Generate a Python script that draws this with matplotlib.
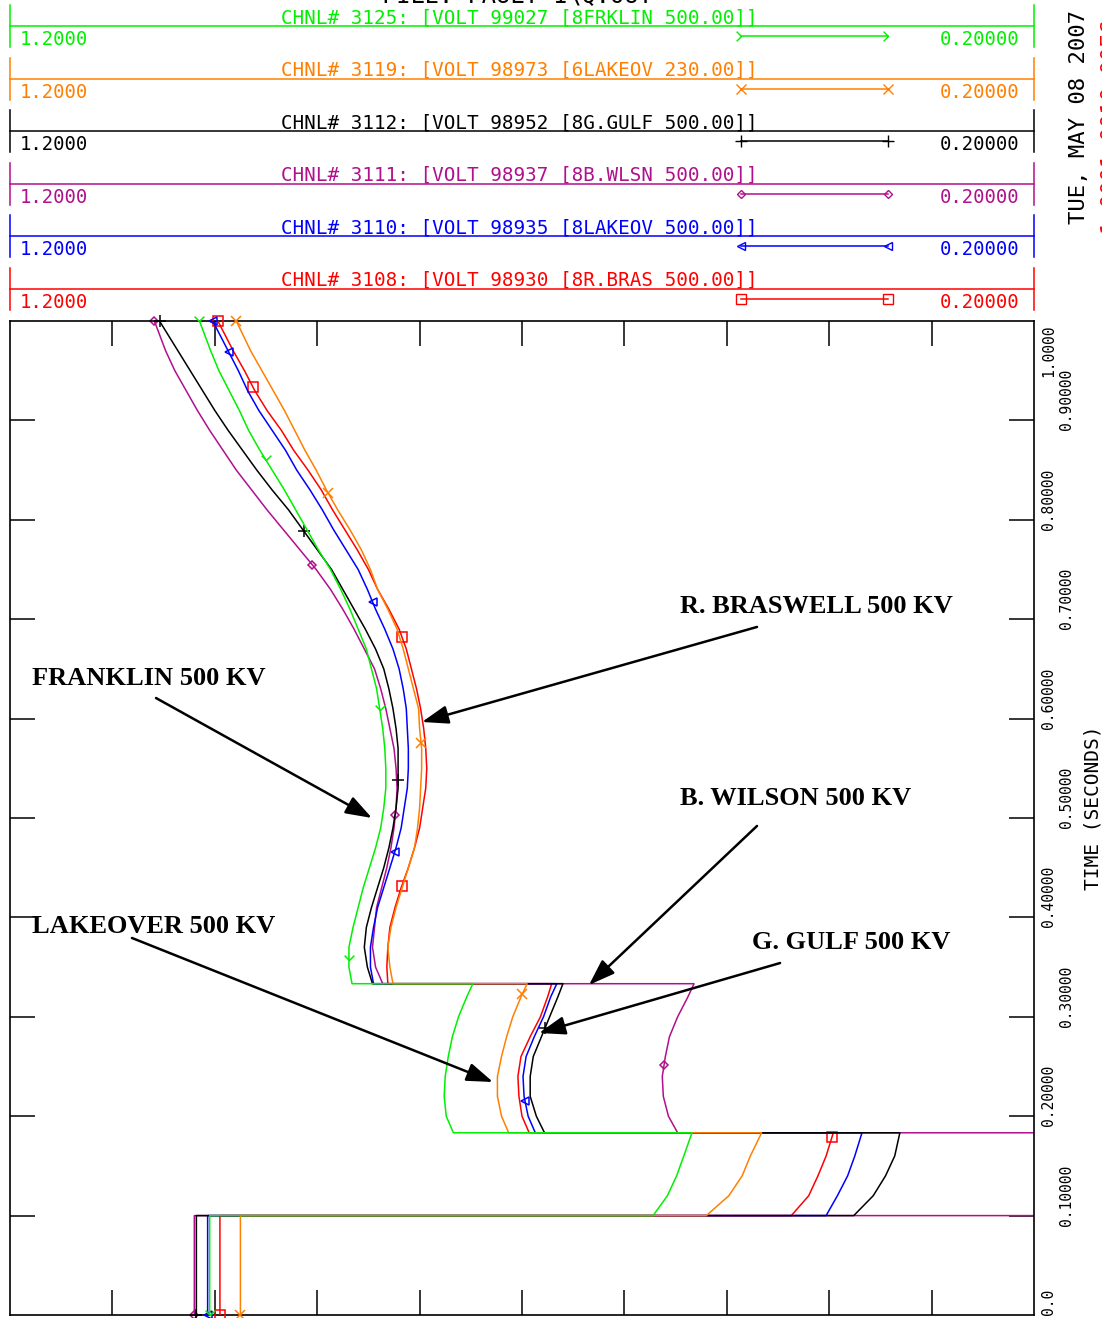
import numpy as np
import matplotlib
matplotlib.use("Agg")
import matplotlib.pyplot as plt
from matplotlib.transforms import blended_transform_factory

# ---------------- time bases (seconds) for each simulation stage ----------------
t_prefault = [0.0, 0.1]
t_fault1 = [0.1, 0.12, 0.14, 0.16, 0.1833]
t_fault2 = [0.1833, 0.20, 0.22, 0.24, 0.26, 0.28, 0.30, 0.32, 0.3333]
t_post = [0.3333, 0.35, 0.37, 0.39, 0.41, 0.43, 0.45, 0.47, 0.49, 0.51,
          0.53, 0.55, 0.57, 0.59, 0.61, 0.63, 0.65, 0.67, 0.69, 0.71,
          0.73, 0.75, 0.77, 0.79, 0.81, 0.83, 0.85, 0.87, 0.89, 0.91,
          0.93, 0.95, 0.97, 1.0]

# ---------------- bus voltages (pu) ----------------
frklin_pre = 1.005
frklin_f1 = [0.572, 0.558, 0.549, 0.542, 0.534]
frklin_f2 = [0.767, 0.774, 0.776, 0.775, 0.772, 0.768, 0.762, 0.754, 0.748]
frklin_post = [0.866, 0.869, 0.869, 0.865, 0.860, 0.855, 0.849, 0.843, 0.838, 0.835,
               0.833, 0.833, 0.834, 0.836, 0.839, 0.842, 0.847, 0.852, 0.860, 0.868,
               0.877, 0.887, 0.899, 0.910, 0.921, 0.932, 0.944, 0.956, 0.967, 0.976,
               0.986, 0.996, 1.004, 1.015]

lakeov230_pre = 0.975
lakeov230_f1 = [0.520, 0.498, 0.485, 0.477, 0.466]
lakeov230_f2 = [0.713, 0.720, 0.724, 0.724, 0.720, 0.715, 0.709, 0.701, 0.695]
lakeov230_post = [0.826, 0.829, 0.831, 0.828, 0.823, 0.817, 0.811, 0.805, 0.802, 0.800,
                  0.799, 0.798, 0.798, 0.800, 0.801, 0.806, 0.811, 0.816, 0.822, 0.831,
                  0.841, 0.848, 0.857, 0.868, 0.880, 0.891, 0.901, 0.912, 0.922, 0.932,
                  0.943, 0.954, 0.965, 0.979]

ggulf_pre = 1.018
ggulf_f1 = [0.376, 0.357, 0.345, 0.336, 0.331]
ggulf_f2 = [0.678, 0.686, 0.692, 0.692, 0.689, 0.681, 0.673, 0.665, 0.660]
ggulf_post = [0.846, 0.851, 0.854, 0.852, 0.847, 0.841, 0.835, 0.830, 0.826, 0.823,
              0.821, 0.821, 0.821, 0.823, 0.826, 0.830, 0.835, 0.843, 0.853, 0.864,
              0.875, 0.886, 0.900, 0.914, 0.928, 0.944, 0.959, 0.973, 0.987, 1.000,
              1.012, 1.024, 1.036, 1.054]

bwlsn_pre = 1.020
bwlsn_f1 = [0.15, 0.15, 0.15, 0.15, 0.15]   # below the 0.2 pu plot floor
bwlsn_f2 = [0.548, 0.557, 0.562, 0.563, 0.560, 0.556, 0.548, 0.538, 0.532]
bwlsn_post = [0.836, 0.843, 0.846, 0.844, 0.842, 0.837, 0.832, 0.828, 0.825, 0.823,
              0.822, 0.823, 0.825, 0.829, 0.833, 0.838, 0.844, 0.854, 0.864, 0.875,
              0.887, 0.901, 0.917, 0.933, 0.949, 0.964, 0.979, 0.992, 1.005, 1.017,
              1.028, 1.039, 1.048, 1.059]

lakeov500_pre = 1.007
lakeov500_f1 = [0.403, 0.392, 0.382, 0.375, 0.368]
lakeov500_f2 = [0.687, 0.694, 0.698, 0.699, 0.696, 0.688, 0.679, 0.672, 0.666]
lakeov500_post = [0.845, 0.848, 0.848, 0.845, 0.841, 0.835, 0.829, 0.823, 0.818, 0.815,
                  0.812, 0.811, 0.811, 0.812, 0.813, 0.816, 0.820, 0.826, 0.834, 0.843,
                  0.851, 0.860, 0.872, 0.884, 0.895, 0.907, 0.920, 0.931, 0.944, 0.957,
                  0.968, 0.977, 0.987, 1.002]

rbras_pre = 0.995
rbras_f1 = [0.437, 0.420, 0.411, 0.403, 0.396]
rbras_f2 = [0.693, 0.700, 0.703, 0.704, 0.701, 0.692, 0.682, 0.675, 0.671]
rbras_post = [0.831, 0.832, 0.831, 0.829, 0.824, 0.818, 0.811, 0.805, 0.800, 0.797,
              0.794, 0.793, 0.794, 0.796, 0.799, 0.803, 0.808, 0.813, 0.820, 0.830,
              0.841, 0.850, 0.861, 0.873, 0.885, 0.896, 0.909, 0.923, 0.935, 0.949,
              0.961, 0.971, 0.982, 0.997]

# symbol times along each trace
frklin_marks = [0.0, 0.357, 0.609, 0.860, 1.0]
lakeov230_marks = [0.0, 0.323, 0.575, 0.827, 1.0]
ggulf_marks = [0.0, 0.289, 0.538, 0.789, 1.0]
bwlsn_marks = [0.0, 0.252, 0.503, 0.755, 1.0]
lakeov500_marks = [0.0, 0.215, 0.466, 0.717, 0.969, 1.0]
rbras_marks = [0.0, 0.179, 0.432, 0.682, 0.934, 1.0]

# channel headings
chan_labels = [
    "CHNL# 3125: [VOLT 99027 [8FRKLIN 500.00]]",
    "CHNL# 3119: [VOLT 98973 [6LAKEOV 230.00]]",
    "CHNL# 3112: [VOLT 98952 [8G.GULF 500.00]]",
    "CHNL# 3111: [VOLT 98937 [8B.WLSN 500.00]]",
    "CHNL# 3110: [VOLT 98935 [8LAKEOV 500.00]]",
    "CHNL# 3108: [VOLT 98930 [8R.BRAS 500.00]]",
]
scale_max_label = "1.2000"
scale_min_label = "0.20000"
time_tick_labels = ["0.0", "0.10000", "0.20000", "0.30000", "0.40000", "0.50000",
                    "0.60000", "0.70000", "0.80000", "0.90000", "1.0000"]
time_ticks = [0.0, 0.1, 0.2, 0.3, 0.4, 0.5, 0.6, 0.7, 0.8, 0.9, 1.0]
volt_ticks = [1.1, 1.0, 0.9, 0.8, 0.7, 0.6, 0.5, 0.4, 0.3]

GREEN = "#00F000"
ORANGE = "#FF8000"
BLACK = "#000000"
PURPLE = "#B0108C"
BLUE = "#0000FF"
RED = "#FF0000"

chevron_v = [(-1, 1), (0, 0), (1, 1)]
chevron_r = [(-1, 1), (0, 0), (-1, -1)]

channels = [
    # pre, f1, f2, post, marks, color, plot marker, legend marker, size, zorder
    (frklin_pre, frklin_f1, frklin_f2, frklin_post, frklin_marks, GREEN, chevron_v, chevron_r, 7, 7),
    (lakeov230_pre, lakeov230_f1, lakeov230_f2, lakeov230_post, lakeov230_marks, ORANGE, "x", "x", 6.5, 6),
    (ggulf_pre, ggulf_f1, ggulf_f2, ggulf_post, ggulf_marks, BLACK, "+", "+", 8, 5),
    (bwlsn_pre, bwlsn_f1, bwlsn_f2, bwlsn_post, bwlsn_marks, PURPLE, "D", "D", 4.5, 2),
    (lakeov500_pre, lakeov500_f1, lakeov500_f2, lakeov500_post, lakeov500_marks, BLUE, "<", "<", 5.5, 4),
    (rbras_pre, rbras_f1, rbras_f2, rbras_post, rbras_marks, RED, "s", "s", 6.5, 3),
]

W, H = 1102, 1318
fig = plt.figure(figsize=(W / 100, H / 100), dpi=100)
fig.patch.set_facecolor("white")

MONO = "DejaVu Sans Mono"

# ---------------- header strip (channel legend, page text) ----------------
hax = fig.add_axes([0, 0, 1, 1], zorder=0)
hax.set_xlim(0, W)
hax.set_ylim(H, 0)
hax.axis("off")

x_left, x_right = 10, 1034
row0, row_step = 26, 52.6
for i, (label, ch) in enumerate(zip(chan_labels, channels)):
    c = ch[5]
    y = row0 + row_step * i
    hax.plot([x_left, x_right], [y, y], color=c, lw=1.1)
    hax.plot([x_left, x_left], [y - 21, y + 21], color=c, lw=1.1)
    hax.plot([x_right, x_right], [y - 21, y + 21], color=c, lw=1.1)
    hax.text(758, y - 3, label, ha="right", va="baseline", color=c,
             family=MONO, fontsize=13.9)
    hax.text(20, y + 19, scale_max_label, ha="left", va="baseline", color=c,
             family=MONO, fontsize=13.6)
    hax.text(1019, y + 19, scale_min_label, ha="right", va="baseline", color=c,
             family=MONO, fontsize=13.6)
    hax.plot([741, 888], [y + 10, y + 10], color=c, lw=1.1, marker=ch[7],
             ms=ch[8], mfc="none", mec=c, mew=1.0)

hax.text(517, 2, "FILE: FAULT 1\\Q.OUT", ha="center", va="baseline",
         family=MONO, fontsize=17, color="black")
hax.text(1079, 10, "TUE, MAY 08 2007", rotation=90, ha="center", va="top",
         family=MONO, fontsize=16, color="black")
hax.text(1111, 20, "1.0001 0010 00EC", rotation=90, ha="center", va="top",
         family=MONO, fontsize=16, color=RED)

# ---------------- main plot: voltage across, time upward ----------------
ax = fig.add_axes([x_left / W, (H - 1315) / H, (x_right - x_left) / W, 994 / H], zorder=1)
ax.set_xlim(1.2, 0.2)
ax.set_ylim(0.0, 1.0)
for s in ax.spines.values():
    s.set_linewidth(1.2)
    s.set_color("black")

ax.set_xticks(volt_ticks)
ax.set_yticks(time_ticks[1:-1])
ax.tick_params(axis="x", direction="in", length=18, width=1.1, top=True, bottom=True,
               labelbottom=False, labeltop=False)
ax.tick_params(axis="y", direction="in", length=18, width=1.1, left=True, right=True,
               labelleft=False, labelright=False)

for ch in channels:
    pre, f1, f2, post, marks, c, pm, lm, ms, z = ch
    t_all = t_prefault + t_fault1 + t_fault2 + t_post
    v_all = [pre, pre] + f1 + f2 + post
    ax.plot(v_all, t_all, color=c, lw=1.1, zorder=z)
    mv = np.interp(marks, t_all, v_all)
    ax.plot(mv, marks, linestyle="none", marker=pm, ms=ms, mfc="none", mec=c,
            mew=1.1, zorder=z + 0.5, clip_on=False)

# time-axis labels on the right side, in two staggered columns
trans = blended_transform_factory(ax.transAxes, ax.transData)
col_a, col_b = 1.0146, 1.0322
for k, (tv, lab) in enumerate(zip(time_ticks, time_tick_labels)):
    xcol = col_a if k % 2 == 0 else col_b
    if tv == 0.0:
        ty, va = 0.0, "bottom"
    elif tv == 1.0:
        ty, va = 0.996, "top"
    else:
        ty, va = tv - 0.0101, "bottom"
    ax.text(xcol, ty, lab, rotation=90, ha="center", va=va,
            transform=trans, family=MONO, fontsize=10.5, clip_on=False)
ax.text(1.0576, 0.51, "TIME (SECONDS)", rotation=90, ha="center", va="center",
        transform=trans, family=MONO, fontsize=14, clip_on=False)

# bus call-outs
callouts = [
    ("R. BRASWELL 500 KV", (0.5457, 0.7062), (0.4705, 0.6922), (0.7977, 0.5966)),
    ("FRANKLIN 500 KV", (1.1785, 0.6338), (1.0574, 0.6207), (0.8465, 0.5000)),
    ("B. WILSON 500 KV", (0.5457, 0.5131), (0.4705, 0.4920), (0.6346, 0.3320)),
    ("LAKEOVER 500 KV", (1.1785, 0.3843), (1.0809, 0.3793), (0.7283, 0.2344)),
    ("G. GULF 500 KV", (0.4754, 0.3682), (0.4480, 0.3541), (0.6834, 0.2837)),
]
for text, (tx, ty), tail, tip in callouts:
    ax.text(tx, ty, text, ha="left", va="baseline", family="Liberation Serif",
            fontweight="bold", fontsize=19, zorder=10)
    ax.annotate("", xy=tip, xytext=tail, zorder=10,
                arrowprops=dict(arrowstyle="-|>,head_length=1.0,head_width=0.35",
                                mutation_scale=16, lw=1.8, color="black",
                                shrinkA=0, shrinkB=0))

fig.savefig("out.png", dpi=100, facecolor="white")
